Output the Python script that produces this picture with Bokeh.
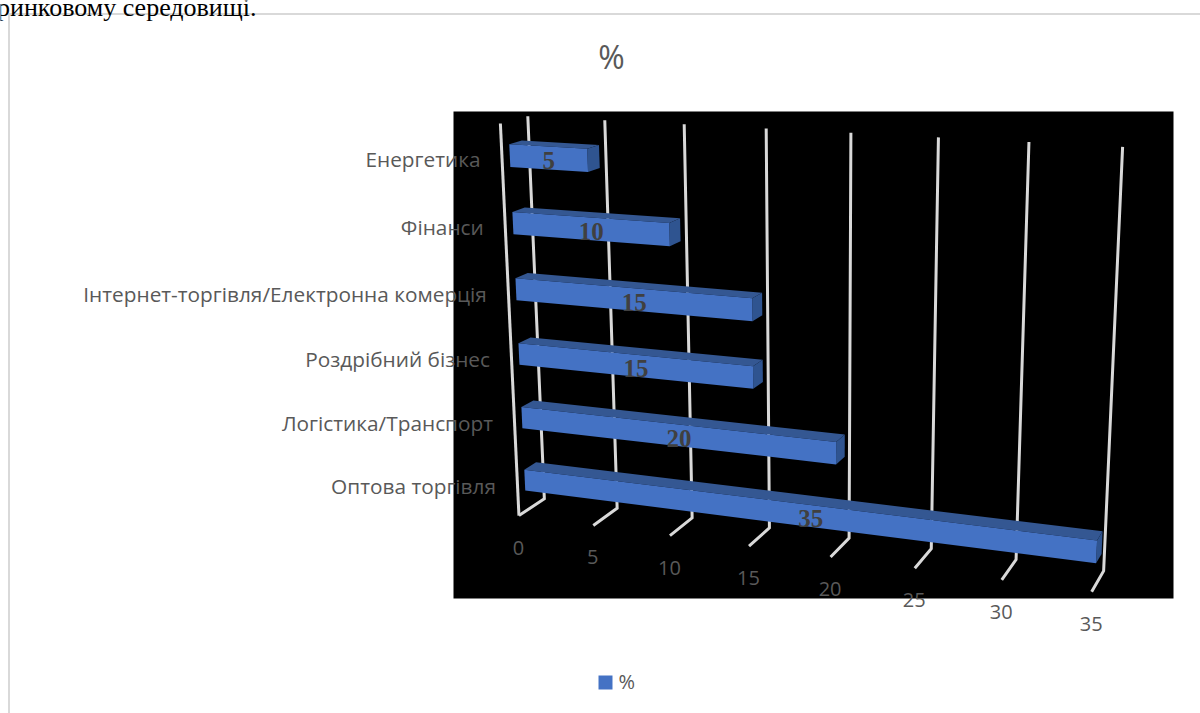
import numpy as np
from bokeh.core.properties import value
from bokeh.embed import file_html
from bokeh.models import Range1d
from bokeh.plotting import figure
from bokeh.resources import INLINE

# Chart content, listed from the bottom band upward
categories = ["Оптова торгівля", "Логістика/Транспорт", "Роздрібний бізнес",
              "Інтернет-торгівля/Електронна комерція", "Фінанси", "Енергетика"]
shares = [35, 20, 15, 15, 10, 5]
axis_ticks = [0, 5, 10, 15, 20, 25, 30, 35]
chart_title = "%"
series_name = "%"
caption_tail = "ринковому середовищі."

W, H = 1200, 713
AXIS_MAX = 35

# Camera calibration: (value, height 0-1, depth 0-1) against page position
CAMERA_FIT = [
    ((0, 0, 1), (544, 498)), ((35, 0, 1), (1103, 571)), ((15, 0, 1), (769, 527)),
    ((0, 1, 1), (527, 116)), ((35, 1, 1), (1122, 146)), ((15, 1, 1), (766, 128)),
    ((0, 0, 0), (518, 515)), ((35, 0, 0), (1091, 591)), ((15, 0, 0), (749, 546)),
    ((0, 1, 0), (500, 123)),
]


def fit_camera(pairs):
    rows, rhs = [], []
    for (x, y, z), (u, v) in pairs:
        x = x / AXIS_MAX
        rows.append([x, y, z, 1, 0, 0, 0, 0, -u * x, -u * y, -u * z])
        rows.append([0, 0, 0, 0, x, y, z, 1, -v * x, -v * y, -v * z])
        rhs += [u, v]
    sol = np.linalg.lstsq(np.array(rows, float), np.array(rhs, float), rcond=None)[0]
    return np.append(sol, 1.0).reshape(3, 4)


CAMERA = fit_camera(CAMERA_FIT)


def project(x, y, z):
    h = CAMERA @ np.array([x / AXIS_MAX, y, z, 1.0])
    return h[0] / h[2], h[1] / h[2]


BAND = 1 / len(categories)
BAR_HALF = 0.028
BAR_FRONT, BAR_BACK = 0.28, 0.74

p = figure(width=W, height=H, output_backend="svg", toolbar_location=None,
           x_range=Range1d(0, W), y_range=Range1d(H, 0), min_border=0)
p.axis.visible = False
p.grid.visible = False
p.outline_line_color = None
p.background_fill_color = "white"
p.border_fill_color = "white"

# Frame of the chart object and the black plot backing
p.segment([8.5, 8.5], [13.5, 13.5], [8.5, W], [H, 13.5], line_color="#d9d9d9", line_width=2)
p.quad(left=[453], right=[1173], top=[111], bottom=[598], fill_color="black", line_color=None)

# Gridlines on the back wall with their floor ticks
GRID = "#d9d9d9"
grid_xs, grid_ys = [], []
for t in axis_ticks:
    top = project(t, 1, 1)
    base = project(t, 0, 1)
    front = project(t, 0, 0)
    grid_xs.append([top[0], base[0], front[0]])
    grid_ys.append([top[1], base[1], front[1]])
left_top, left_base = project(0, 1, 0), project(0, 0, 0)
grid_xs.append([left_top[0], left_base[0]])
grid_ys.append([left_top[1], left_base[1]])
p.multi_line(grid_xs, grid_ys, line_color=GRID, line_width=3, line_join="miter")


def face(corners):
    pts = [project(*c) for c in corners]
    return [q[0] for q in pts], [q[1] for q in pts]


# Bars: top, end cap, then front face
face_xs, face_ys, face_colors = [], [], []
lab_x, lab_y = [], []
for i, v in enumerate(shares):
    yc = (i + 0.5) * BAND
    y0, y1 = yc - BAR_HALF, yc + BAR_HALF
    for corners, colour in (
        ([(0, y1, BAR_FRONT), (v, y1, BAR_FRONT), (v, y1, BAR_BACK), (0, y1, BAR_BACK)], "#345792"),
        ([(v, y0, BAR_FRONT), (v, y1, BAR_FRONT), (v, y1, BAR_BACK), (v, y0, BAR_BACK)], "#2f5490"),
        ([(0, y0, BAR_FRONT), (v, y0, BAR_FRONT), (v, y1, BAR_FRONT), (0, y1, BAR_FRONT)], "#4472c4"),
    ):
        xs, ys = face(corners)
        face_xs.append(xs)
        face_ys.append(ys)
        face_colors.append(colour)
    # Value label sits at the on-page middle of the bar's front face
    a, b = project(0, yc, BAR_FRONT), project(v, yc, BAR_FRONT)
    lab_x.append((a[0] + b[0]) / 2)
    lab_y.append((a[1] + b[1]) / 2 + 3)
p.patches(face_xs, face_ys, fill_color=face_colors, line_color=None)

p.text(lab_x, lab_y, text=[str(v) for v in shares],
       text_font=value("Liberation Serif"), text_font_style="bold", text_font_size="25px",
       text_color="#404040", text_align="center", text_baseline="middle")

# Category labels
LABEL = "#595959"
cat_pos = [project(0, (i + 0.5) * BAND, 0) for i in range(len(categories))]
p.text([q[0] - 21.5 for q in cat_pos], [q[1] + 1 for q in cat_pos], text=categories,
       text_font=value("Open Sans"), text_font_size="20.8px", text_color=LABEL,
       text_align="right", text_baseline="middle")

# Value axis labels
tick_pos = [project(t, 0, 0) for t in axis_ticks]
p.text([q[0] - 0.5 for q in tick_pos], [q[1] + 32 for q in tick_pos], text=[str(t) for t in axis_ticks],
       text_font=value("Open Sans"), text_font_size="20px", text_color=LABEL,
       text_align="center", text_baseline="middle")

# Title, legend and the running text above the chart
p.text([611], [56], text=[chart_title], text_font=value("Open Sans"), text_font_size="32px",
       text_color=LABEL, text_align="center", text_baseline="middle")
p.quad(left=[598], right=[612], top=[675], bottom=[689], fill_color="#4472c4", line_color=None)
p.text([618], [681], text=[series_name], text_font=value("Open Sans"), text_font_size="20px",
       text_color=LABEL, text_align="left", text_baseline="middle")
p.text([256], [7], text=[caption_tail], text_font=value("Liberation Serif"), text_font_size="26px",
       text_color="black", text_align="right", text_baseline="alphabetic")

open("out.html", "w").write(file_html(p, INLINE))
